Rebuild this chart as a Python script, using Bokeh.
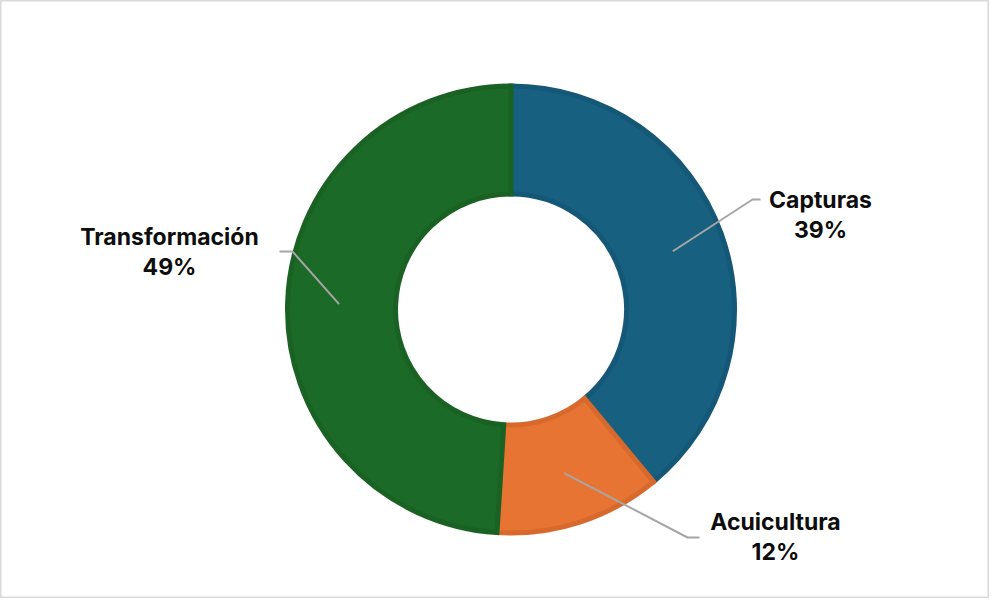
import numpy as np
from bokeh.plotting import figure
from bokeh.models import Range1d, ColumnDataSource
from bokeh.core.properties import value
from bokeh.embed import file_html
from bokeh.resources import INLINE

categories = ["Capturas", "Acuicultura", "Transformación"]
shares = [39, 12, 49]
fills = ["#17607F", "#E87434", "#1C6A27"]
borders = ["#155776", "#D8692D", "#1A6224"]

W, H = 989, 598
p = figure(width=W, height=H, output_backend="svg", toolbar_location=None,
           x_range=Range1d(0, W), y_range=Range1d(0, H), min_border=0)
p.axis.visible = False
p.grid.visible = False
p.outline_line_color = "#D9D9D9"
p.outline_line_width = 2
p.background_fill_color = "white"

cx, cy = 510.5, H - 309
r_out, r_in = 226, 113
bw = 5

frac = np.array(shares) / sum(shares)
cum = np.concatenate([[0], np.cumsum(frac)])
start = np.pi / 2 - cum[:-1] * 2 * np.pi
end = np.pi / 2 - cum[1:] * 2 * np.pi

src = ColumnDataSource(dict(start=start, end=end, fill=fills, line=borders))
p.annular_wedge(x=cx, y=cy, inner_radius=r_in + bw / 2, outer_radius=r_out - bw / 2,
                start_angle="end", end_angle="start", direction="anticlock",
                fill_color="fill", line_color="line", line_width=bw, source=src,
                line_join="miter")

# leader lines and labels
mid = (start + end) / 2
label_pos = {
    "Capturas": (820, H - 199, 752, H - 199, 760),
    "Acuicultura": (775, H - 521, 687, H - 537, 699),
    "Transformación": (169, H - 236, 292, H - 251, 279),
}
anchor_r = 172
for cat, share, m in zip(categories, shares, mid):
    tx, ty, ex, ey, hx = label_pos[cat]
    ax = cx + anchor_r * np.cos(m)
    ay = cy + anchor_r * np.sin(m)
    p.line([ax, ex, hx], [ay, ey, ey], line_color="#A6A6A6", line_width=2)
    p.text(x=[tx], y=[ty], text=[cat], text_font=value("Inter"), text_font_style="bold",
           text_font_size="23px", text_align="center", text_baseline="middle", text_color="#0D0D0D")
    p.text(x=[tx], y=[ty - 30], text=[f"{share}%"], text_font=value("Inter"), text_font_style="bold",
           text_font_size="23px", text_align="center", text_baseline="middle", text_color="#0D0D0D")

open("out.html", "w").write(file_html(p, INLINE))
